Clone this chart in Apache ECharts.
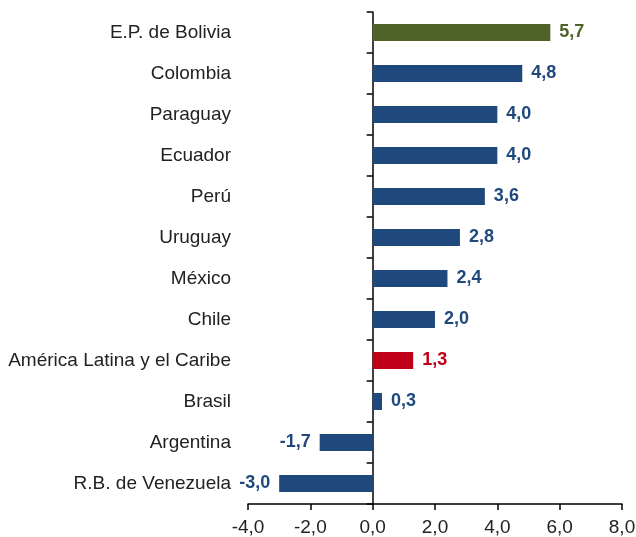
<!DOCTYPE html>
<html>
<head>
<meta charset="utf-8">
<script src="https://cdn.jsdelivr.net/npm/echarts@6/dist/echarts.min.js"></script>
<style>
  html, body { margin: 0; padding: 0; background: #fff; }
  #chart { width: 636px; height: 537px; }
</style>
</head>
<body>
<div id="chart"></div>
<script>
// paises, de arriba hacia abajo
var countries = ['E.P. de Bolivia', 'Colombia', 'Paraguay', 'Ecuador', 'Perú', 'Uruguay',
    'México', 'Chile', 'América Latina y el Caribe', 'Brasil', 'Argentina', 'R.B. de Venezuela'];
var values = [5.7, 4.8, 4.0, 4.0, 3.6, 2.8, 2.4, 2.0, 1.3, 0.3, -1.7, -3.0];
var xTicks = [-4, -2, 0, 2, 4, 6, 8];

var BLUE = '#1F497D';
var GREEN = '#4F6228';
var RED = '#C00018';

function fmt(v) {
    return v.toFixed(1).replace('.', ',');
}

function colorFor(name) {
    if (name === 'E.P. de Bolivia') return GREEN;
    if (name === 'América Latina y el Caribe') return RED;
    return BLUE;
}

var barData = values.map(function (v, i) {
    var c = colorFor(countries[i]);
    return {
        value: v,
        itemStyle: { color: c },
        label: {
            color: c,
            position: v < 0 ? 'left' : 'right'
        }
    };
});

var myChart = echarts.init(document.getElementById('chart'));
myChart.setOption({
    animation: false,
    grid: { left: 248, right: 14, top: 12, bottom: 33, containLabel: false, outerBoundsMode: 'none' },
    xAxis: {
        type: 'value',
        min: xTicks[0],
        max: xTicks[xTicks.length - 1],
        interval: 2,
        splitLine: { show: false },
        axisLine: { show: true, lineStyle: { color: '#000', width: 1.5 } },
        axisTick: { show: true, length: 6, lineStyle: { color: '#000', width: 1.5 } },
        axisLabel: {
            color: '#222',
            fontFamily: 'Liberation Sans, Arial, sans-serif',
            fontSize: 19,
            margin: 14,
            formatter: function (v) { return fmt(v); }
        }
    },
    yAxis: {
        type: 'category',
        inverse: true,
        data: countries,
        axisLine: { show: true, onZero: true, lineStyle: { color: '#000', width: 1.5 } },
        axisTick: { show: true, length: 6, lineStyle: { color: '#000', width: 1.5 } },
        axisLabel: {
            color: '#222',
            fontFamily: 'Liberation Sans, Arial, sans-serif',
            fontSize: 19,
            margin: 17,
            padding: [2, 0, 0, 0]
        }
    },
    series: [{
        type: 'bar',
        data: barData,
        barWidth: 17,
        label: {
            show: true,
            distance: 9,
            fontFamily: 'Liberation Sans, Arial, sans-serif',
            fontSize: 18,
            fontWeight: 'bold',
            formatter: function (p) { return fmt(p.value); }
        }
    }]
});
</script>
</body>
</html>
